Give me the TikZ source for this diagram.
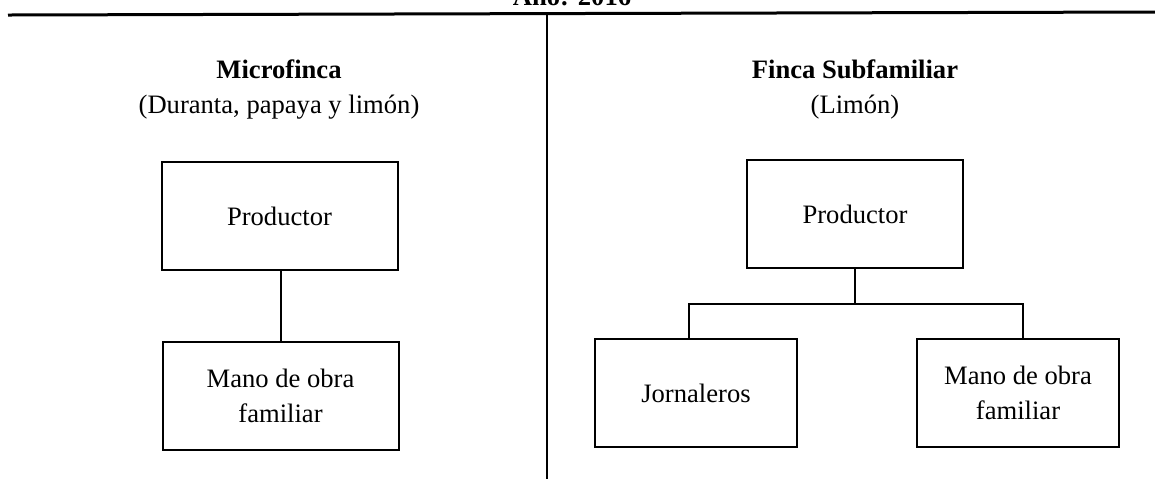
\documentclass[tikz,border=0pt]{standalone}
\usepackage{fontspec}
\setmainfont{Liberation Serif}
\begin{document}
\begin{tikzpicture}[x=0.5pt,y=-0.5pt,
  every node/.style={font=\fontsize{13.3}{17.5}\selectfont},
  box/.style={draw, line width=1pt, inner sep=0pt, minimum width=118pt, minimum height=54pt, align=center},
  conn/.style={line width=1pt},
  title/.style={anchor=base, font=\fontsize{13.3}{17.5}\selectfont\bfseries},
  sub/.style={anchor=base}]
\useasboundingbox (0,0) rectangle (1155,479);
% header
\node[title] (anio) at (572,5) {Año: 2016};
\draw[line width=1.5pt] (8,15) -- (1155,12);
\draw[line width=1pt] (547,14) -- (547,479);
% left
\node[title] (t1) at (279,78) {Microfinca};
\node[sub] (s1) at (279,113) {(Duranta, papaya y limón)};
\node[box] (p1) at (279.5,216) {Productor};
\node[box] (m1) at (280.5,396) {Mano de obra\\familiar};
\draw[conn] (m1.north |- p1.south) -- (m1.north);
% right
\node[title] (t2) at (855,78) {Finca Subfamiliar};
\node[sub] (s2) at (855,113) {(Limón)};
\node[box, minimum width=108pt] (p2) at (855,214) {Productor};
\node[box, minimum width=101pt] (j) at (696,393) {Jornaleros};
\node[box, minimum width=101pt] (m2) at (1018,392.5) {Mano de obra\\familiar};
\coordinate (busL) at (689,304);
\coordinate (busR) at (1023,304);
\draw[conn] (p2.south) -- (p2.south |- busL);
\draw[conn] (j.north -| busL) -- (busL) -- (busR) -- (m2.north -| busR);
\end{tikzpicture}
\end{document}
